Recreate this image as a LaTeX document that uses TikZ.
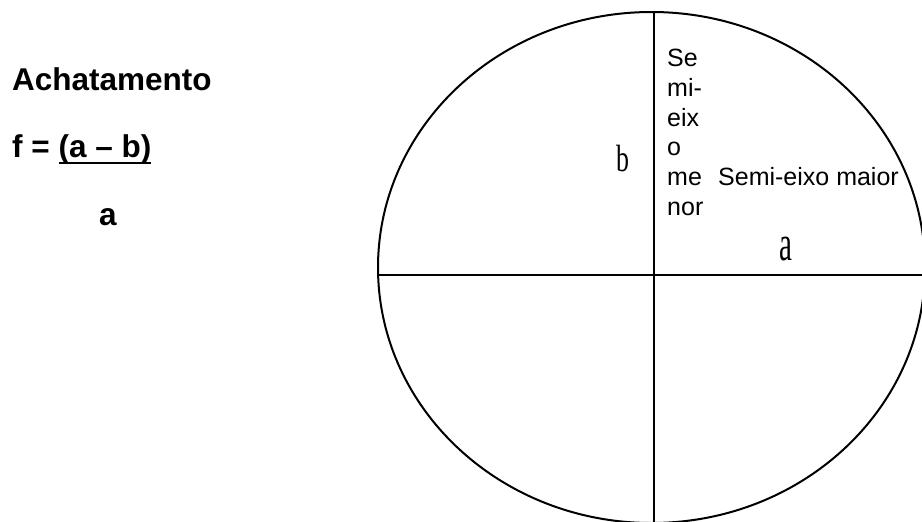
\documentclass[tikz,border=0pt]{standalone}
\usepackage{fontspec}
\setmainfont{Liberation Sans}
\newfontfamily\eixofont{Liberation Serif}
\usetikzlibrary{positioning}
\newcommand{\grifo}[1]{\setbox0\hbox{#1}\rlap{\rule[-7pt]{\wd0}{2pt}}\box0}
\tikzset{
  axis/.style={draw=black, line width=2.2pt},
  rim/.style={draw=black, line width=2pt},
  titulo/.style={font=\fontsize{31.5}{36}\selectfont\bfseries, inner sep=0pt, anchor=base west},
  lbl/.style={font=\fontsize{25}{29.7}\selectfont, inner sep=0pt, align=left},
  letra/.style={inner sep=0pt, anchor=base}
}

\begin{document}
\begin{tikzpicture}[x=1pt, y=-1pt]
  \useasboundingbox (0,0) rectangle (922,522);
  \clip (0,0) rectangle (922,522);

  % elipse e semi-eixos
  \draw[rim] (651.5,267.5) ellipse [x radius=273.5, y radius=255.5];
  \coordinate (oeste) at (378,275);
  \coordinate (leste) at (925,275);
  \coordinate (topo) at (654,12);
  \coordinate (base) at (654,525);
  \draw[axis] (oeste) -- (leste);
  \draw[axis] (topo) -- (base);

  % achatamento
  \node[titulo] (achat) at (12,90) {Achatamento};
  \node[titulo] (formula) at (12,157) {f = \grifo{(a – b)}};
  \node[titulo, anchor=base] (denom) at (108,225) {a};

  % rotulos
  \node[lbl, anchor=north west] (menor) at (667,49) {Se\\mi-\\eix\\o\\me\\nor};
  \node[lbl, anchor=base west] (maior) at (718,185) {Semi-eixo maior};
  \node[letra, font=\eixofont\fontsize{38}{38}\selectfont, xscale=0.68] (letb) at (623,171) {b};
  \node[letra, font=\eixofont\fontsize{50}{50}\selectfont, xscale=0.58] (leta) at (786,260) {a};
\end{tikzpicture}
\end{document}
